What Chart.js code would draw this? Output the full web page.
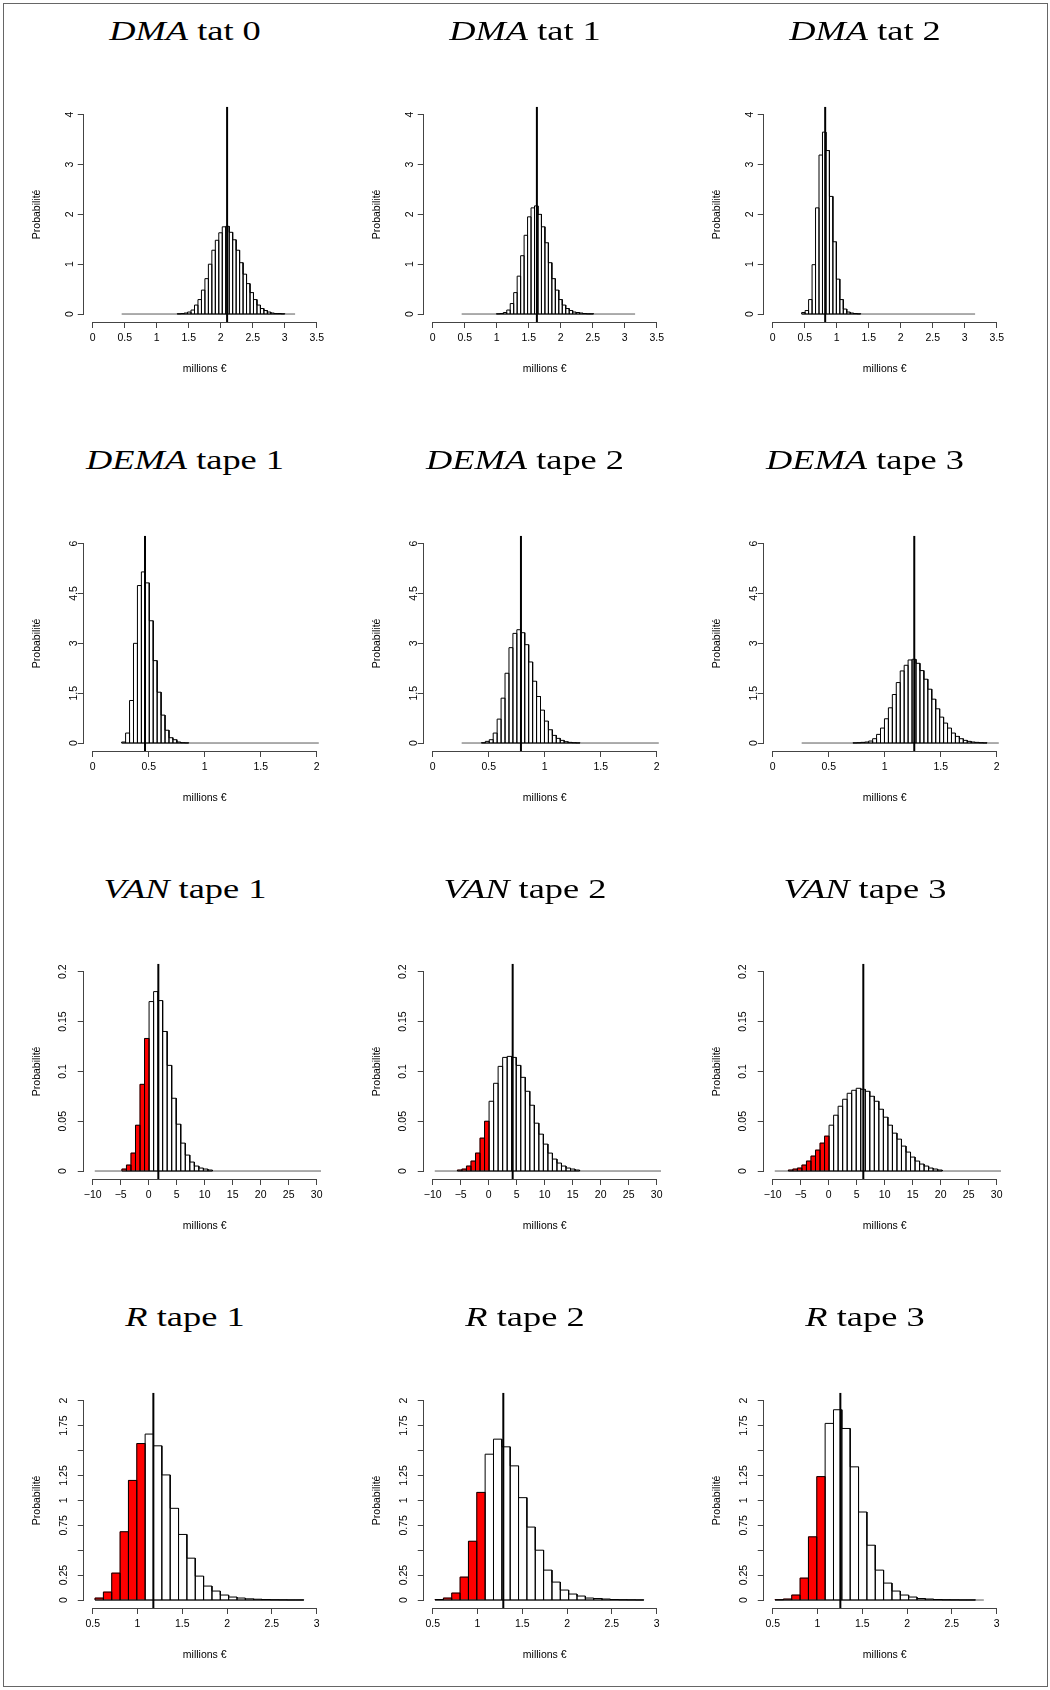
<!DOCTYPE html>
<html>
<head>
<meta charset="utf-8">
<script src="https://cdn.jsdelivr.net/npm/chart.js@4.4.1/dist/chart.umd.min.js"></script>
<style>
html,body{margin:0;padding:0;background:#fff;}
body{width:1050px;height:1690px;position:relative;overflow:hidden;}
.frame{position:absolute;left:3px;top:3px;width:1045px;height:1684px;border:1px solid #666;box-sizing:border-box;}
.panel{position:absolute;width:340px;height:400px;}
.ttl{position:absolute;width:320px;text-align:center;font-family:"Liberation Serif","Times New Roman",serif;font-size:28px;line-height:28px;color:#000;white-space:pre;transform:scaleX(1.3);transform-origin:50% 50%;}
.ttl i{font-style:italic;}
</style>
</head>
<body>
<div class="frame"></div>
<div id="root"></div>
<script>
// ---------------- DATA ----------------
const rowVariables = ['DMA', 'DEMA', 'VAN', 'R'];
const rowStages = [
  ['tat 0', 'tat 1', 'tat 2'],
  ['tape 1', 'tape 2', 'tape 3'],
  ['tape 1', 'tape 2', 'tape 3'],
  ['tape 1', 'tape 2', 'tape 3']
];
const xAxisTitle = 'millions €';
const yAxisTitle = 'Probabilité';

// histogram breaks: first break and bin width per row (common breaks within a row)
const breakStart = [0.4526, 0.2586, -9.63, 0.526];
const binWidth = [0.0542, 0.0352, 0.808, 0.0932];
// bins whose left break lies below this value are drawn red (null = none)
const redBelow = [null, null, 0, 1];

const xLimits = [[0, 3.5], [0, 2], [-10, 30], [0.5, 3]];
const yLimits = [[0, 4], [0, 6], [0, 0.2], [0, 2]];

const xTickValues = [
  [0, 0.5, 1, 1.5, 2, 2.5, 3, 3.5],
  [0, 0.5, 1, 1.5, 2],
  [-10, -5, 0, 5, 10, 15, 20, 25, 30],
  [0.5, 1, 1.5, 2, 2.5, 3]
];
const xTickLabels = [
  ['0', '0.5', '1', '1.5', '2', '2.5', '3', '3.5'],
  ['0', '0.5', '1', '1.5', '2'],
  ['\u221210', '\u22125', '0', '5', '10', '15', '20', '25', '30'],
  ['0.5', '1', '1.5', '2', '2.5', '3']
];
const yTickValues = [
  [0, 1, 2, 3, 4],
  [0, 1.5, 3, 4.5, 6],
  [0, 0.05, 0.1, 0.15, 0.2],
  [0, 0.25, 0.5, 0.75, 1, 1.25, 1.5, 1.75, 2]
];
const yTickLabels = [
  ['0', '1', '2', '3', '4'],
  ['0', '1.5', '3', '4.5', '6'],
  ['0', '0.05', '0.1', '0.15', '0.2'],
  ['0', '0.25', '', '0.75', '1', '1.25', '', '1.75', '2']
];

// vertical reference line (mean) per panel
const meanValues = [
  [2.10, 1.628, 0.82],
  [0.467, 0.788, 1.264],
  [1.72, 4.28, 6.18],
  [1.177, 1.288, 1.255]
];

// densities per bin
const dmaEtat0 = [0,0,0,0,0,0,0,0,0,0, 0,0,0,0,0,0,0.005,0.01,0.02,0.04, 0.08,0.18,0.29,0.48,0.71,1.0,1.28,1.48,1.63,1.75, 1.76,1.64,1.49,1.28,1.03,0.8,0.61,0.43,0.29,0.18, 0.11,0.07,0.04,0.02,0.01,0.01,0.005,0,0,0];
const dmaEtat1 = [0,0,0,0,0,0,0,0,0,0, 0.005,0.01,0.03,0.08,0.21,0.43,0.76,1.17,1.58,1.95, 2.13,2.17,2.0,1.75,1.43,1.03,0.71,0.48,0.29,0.18, 0.11,0.07,0.04,0.03,0.02,0.01,0.005,0.005,0,0, 0,0,0,0,0,0,0,0,0,0];
const dmaEtat2 = [0.03,0.07,0.29,0.99,2.13,3.19,3.65,3.28,2.36,1.45, 0.7,0.29,0.1,0.04,0.02,0.01,0.005,0,0,0, 0,0,0,0,0,0,0,0,0,0, 0,0,0,0,0,0,0,0,0,0, 0,0,0,0,0,0,0,0,0,0];

const demaEtape1 = [0.03,0.3,1.28,3.0,4.74,5.15,4.82,3.68,2.48,1.53, 0.84,0.385,0.16,0.1,0.03,0.01,0.005,0,0,0, 0,0,0,0,0,0,0,0,0,0, 0,0,0,0,0,0,0,0,0,0, 0,0,0,0,0,0,0,0,0,0];
const demaEtape2 = [0,0,0,0,0,0.01,0.05,0.1,0.3,0.72, 1.35,2.1,2.87,3.3,3.41,3.32,2.96,2.44,1.86,1.4, 0.99,0.66,0.4,0.23,0.14,0.08,0.04,0.02,0.01,0.005, 0,0,0,0,0,0,0,0,0,0, 0,0,0,0,0,0,0,0,0,0];
const demaEtape3 = [0,0,0,0,0,0,0,0,0,0, 0,0,0,0.005,0.01,0.02,0.03,0.06,0.13,0.26, 0.45,0.73,1.06,1.46,1.82,2.17,2.34,2.5,2.52,2.4, 2.18,1.92,1.62,1.32,1.03,0.78,0.6,0.45,0.3,0.2, 0.13,0.08,0.05,0.03,0.02,0.01,0.005,0,0,0];

const vanEtape1 = [0,0,0,0,0,0,0.002,0.006,0.018,0.046, 0.087,0.133,0.17,0.18,0.171,0.14,0.106,0.073,0.047,0.028, 0.016,0.009,0.005,0.003,0.002,0.001,0,0,0,0, 0,0,0,0,0,0,0,0,0,0, 0,0,0,0,0,0,0,0,0,0];
const vanEtape2 = [0,0,0,0,0,0.001,0.002,0.005,0.01,0.018, 0.033,0.05,0.07,0.088,0.105,0.114,0.115,0.114,0.106,0.094, 0.08,0.066,0.048,0.037,0.027,0.018,0.012,0.008,0.005,0.003, 0.002,0.001,0,0,0,0,0,0,0,0, 0,0,0,0,0,0,0,0,0,0];
const vanEtape3 = [0,0,0,0.001,0.002,0.003,0.006,0.01,0.015,0.021, 0.028,0.035,0.046,0.056,0.065,0.072,0.078,0.081,0.083,0.082, 0.08,0.075,0.07,0.062,0.054,0.046,0.038,0.032,0.025,0.019, 0.014,0.01,0.007,0.005,0.003,0.002,0.001,0,0,0, 0,0,0,0,0,0,0,0,0,0];

const rEtape1 = [0.02,0.08,0.27,0.685,1.2,1.57,1.665,1.547,1.255,0.92, 0.658,0.42,0.24,0.14,0.09,0.05,0.03,0.02,0.012,0.008, 0.005,0.003,0.002,0.001,0.001];
const rEtape2 = [0.005,0.02,0.07,0.23,0.59,1.08,1.463,1.614,1.537,1.346, 1.027,0.732,0.5,0.3,0.18,0.1,0.06,0.04,0.02,0.015, 0.01,0.005,0.003,0.002,0.001];
const rEtape3 = [0.003,0.01,0.05,0.22,0.634,1.238,1.772,1.909,1.721,1.336, 0.883,0.55,0.3,0.17,0.09,0.05,0.03,0.015,0.01,0.005, 0.003,0.002,0.001,0.001,0];

const densities = [
  [dmaEtat0, dmaEtat1, dmaEtat2],
  [demaEtape1, demaEtape2, demaEtape3],
  [vanEtape1, vanEtape2, vanEtape3],
  [rEtape1, rEtape2, rEtape3]
];

// ---------------- LAYOUT ----------------
const ROW_H = 428.7, COL_W = 340, PANEL_H = 400;
const AREA_LEFT = 83.74, AREA_RIGHT = 325.66, AREA_TOP = 106.7, AREA_BOTTOM = 322.0;
const X_BOX_H = 53.8;
const FONT_PX = 10.5;
const TICK_LEN = 6;
const yLabelCenter = [70.3, 74.5, 63.2, 64.5];
const TITLE_CENTER_X = 184.5, TITLE_TOP = 17.2;

Chart.defaults.font.family = '"Liberation Sans", Arial, Helvetica, sans-serif';
Chart.defaults.font.size = FONT_PX;
Chart.defaults.color = '#000';

const measureCtx = document.createElement('canvas').getContext('2d');
measureCtx.font = FONT_PX + 'px "Liberation Sans"';

const rAxisLines = {
  id: 'rAxisLines',
  afterDraw(chart, args, opts) {
    const {ctx, chartArea, scales} = chart;
    const xs = scales.x, ys = scales.y;
    const al = p => Math.round(p - 0.5) + 0.5;
    ctx.save();
    ctx.strokeStyle = '#444';
    ctx.lineWidth = 1;
    ctx.lineCap = 'square';
    const by = al(chartArea.bottom);
    ctx.beginPath();
    ctx.moveTo(al(xs.getPixelForValue(opts.xTicks[0])), by);
    ctx.lineTo(al(xs.getPixelForValue(opts.xTicks[opts.xTicks.length - 1])), by);
    ctx.stroke();
    const lx = al(chartArea.left);
    ctx.beginPath();
    ctx.moveTo(lx, al(ys.getPixelForValue(opts.yTicks[0])));
    ctx.lineTo(lx, al(ys.getPixelForValue(opts.yTicks[opts.yTicks.length - 1])));
    ctx.stroke();
    ctx.restore();
  }
};

const root = document.getElementById('root');

function makePanel(r, c) {
  const panelTop = r * ROW_H;
  const panelLeft = c * COL_W;

  const ttl = document.createElement('div');
  ttl.className = 'ttl';
  ttl.style.left = (panelLeft + TITLE_CENTER_X - 160) + 'px';
  ttl.style.top = (panelTop + TITLE_TOP) + 'px';
  const it = document.createElement('i');
  it.textContent = rowVariables[r];
  ttl.appendChild(it);
  ttl.appendChild(document.createTextNode(' ' + rowStages[r][c]));
  root.appendChild(ttl);

  const div = document.createElement('div');
  div.className = 'panel';
  div.style.left = panelLeft + 'px';
  div.style.top = panelTop + 'px';
  const cv = document.createElement('canvas');
  div.appendChild(cv);
  root.appendChild(div);

  const dens = densities[r][c];
  const s = breakStart[r], w = binWidth[r];
  const bars = dens.map((h, i) => ({x: s + (i + 0.5) * w, y: h}));
  const colors = dens.map((h, i) => (h > 0 && redBelow[r] !== null && s + i * w < redBelow[r]) ? '#ff0000' : 'rgba(255,255,255,0)');
  let first = dens.findIndex(h => h > 0);
  let last = dens.length - 1 - dens.slice().reverse().findIndex(h => h > 0);
  const outline = [{x: s + first * w, y: 0}];
  for (let i = first; i <= last; i++) {
    const L = s + i * w, R = L + w;
    outline.push({x: L, y: dens[i]}, {x: R, y: dens[i]}, {x: R, y: 0});
  }
  const baseBlack = [{x: s + first * w, y: 0}, {x: s + (last + 1) * w, y: 0}];
  const baseGray = [{x: s, y: 0}, {x: s + dens.length * w, y: 0}];

  const xr = xLimits[r], yr = yLimits[r];
  const xpad = 0.04 * (xr[1] - xr[0]), ypad = 0.04 * (yr[1] - yr[0]);
  const xMin = xr[0] - xpad, xMax = xr[1] + xpad, yMin = yr[0] - ypad, yMax = yr[1] + ypad;
  const m = meanValues[r][c];
  const meanLine = [{x: m, y: yMin}, {x: m, y: yMax}];

  let widest = 0;
  yTickLabels[r].forEach(t => { widest = Math.max(widest, measureCtx.measureText(t).width); });
  const yPad = AREA_LEFT - TICK_LEN - widest / 2 - yLabelCenter[r];

  const gridOpts = {display: true, drawOnChartArea: false, drawTicks: true, tickLength: TICK_LEN, color: '#444', lineWidth: 1, offset: false};
  const lineCommon = {type: 'line', pointRadius: 0, pointHoverRadius: 0, fill: false, tension: 0, borderCapStyle: 'butt', borderJoinStyle: 'miter'};

  new Chart(cv, {
    type: 'bar',
    data: {
      datasets: [
        {type: 'bar', data: bars, backgroundColor: colors, borderWidth: 0, inflateAmount: 0.3, barPercentage: 1, categoryPercentage: 1, order: 5},
        Object.assign({data: baseGray, borderColor: '#5a5a5a', borderWidth: 1, order: 4}, lineCommon),
        Object.assign({data: baseBlack, borderColor: '#000', borderWidth: 1, order: 3}, lineCommon),
        Object.assign({data: outline, borderColor: '#000', borderWidth: 1, order: 2}, lineCommon),
        Object.assign({data: meanLine, borderColor: '#000', borderWidth: 2, order: 1}, lineCommon)
      ]
    },
    options: {
      responsive: true,
      maintainAspectRatio: false,
      animation: false,
      events: [],
      layout: {padding: {left: 0, top: AREA_TOP, right: COL_W - AREA_RIGHT, bottom: PANEL_H - AREA_BOTTOM - X_BOX_H}},
      plugins: {
        legend: {display: false},
        tooltip: {enabled: false},
        title: {display: false},
        rAxisLines: {xTicks: xTickValues[r], yTicks: yTickValues[r]}
      },
      scales: {
        x: {
          type: 'linear', position: 'bottom', min: xMin, max: xMax, offset: false,
          afterBuildTicks: sc => { sc.ticks = xTickValues[r].map(v => ({value: v})); },
          afterFit: sc => { sc.height = X_BOX_H; },
          ticks: {autoSkip: false, maxRotation: 0, minRotation: 0, padding: 4, color: '#000', font: {size: FONT_PX},
            callback: (v, i) => xTickLabels[r][i]},
          grid: gridOpts,
          border: {display: false},
          title: {display: true, text: xAxisTitle, color: '#000', font: {size: FONT_PX}, padding: {top: 0, bottom: 0}}
        },
        y: {
          type: 'linear', position: 'left', min: yMin, max: yMax,
          afterBuildTicks: sc => { sc.ticks = yTickValues[r].map(v => ({value: v})); },
          afterFit: sc => { sc.width = AREA_LEFT; },
          ticks: {autoSkip: false, minRotation: 90, maxRotation: 90, crossAlign: 'center', padding: yPad, color: '#000', font: {size: FONT_PX},
            callback: (v, i) => yTickLabels[r][i]},
          grid: gridOpts,
          border: {display: false},
          title: {display: true, text: yAxisTitle, color: '#000', font: {size: FONT_PX}, padding: {top: 30.4, bottom: 0}}
        }
      }
    },
    plugins: [rAxisLines]
  });
}

for (let r = 0; r < 4; r++) {
  for (let c = 0; c < 3; c++) makePanel(r, c);
}
</script>
</body>
</html>
